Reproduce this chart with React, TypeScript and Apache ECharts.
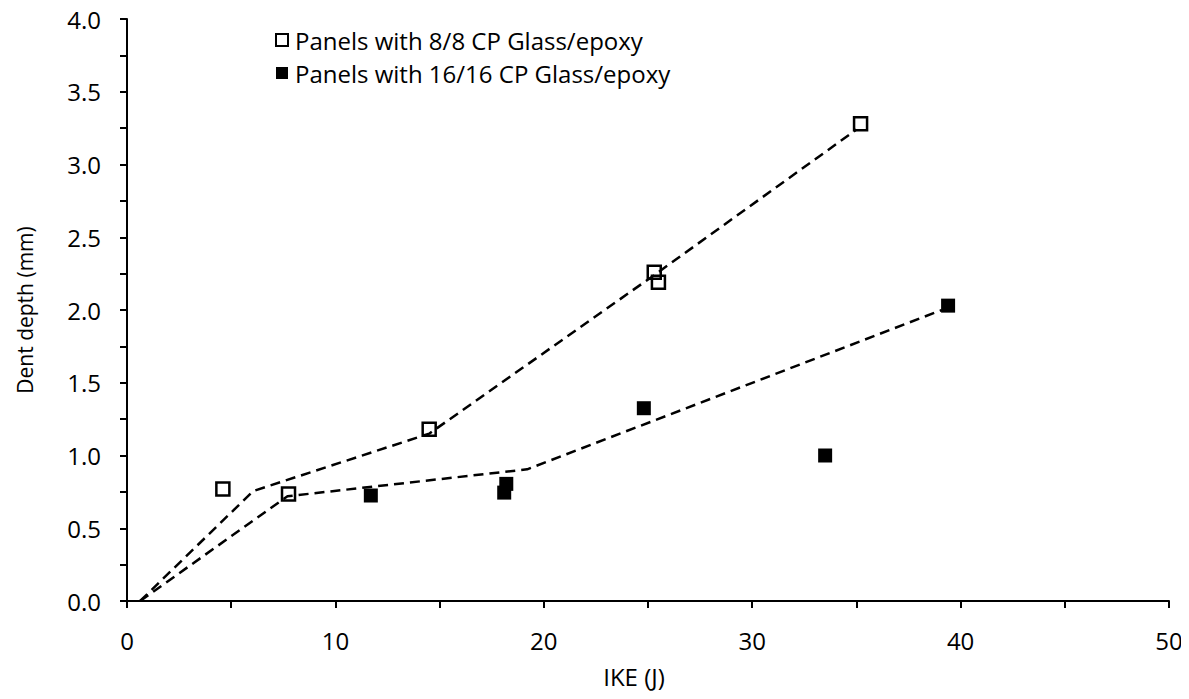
import React, { useEffect, useRef } from "react";
import * as echarts from "echarts";

const panels8Label = "Panels with 8/8 CP Glass/epoxy";
const panels16Label = "Panels with 16/16 CP Glass/epoxy";

const panels8Points: [number, number][] = [
  [4.6, 0.77],
  [7.75, 0.735],
  [14.5, 1.18],
  [25.3, 2.26],
  [25.5, 2.19],
  [35.2, 3.28],
];

const panels16Points: [number, number][] = [
  [11.7, 0.725],
  [18.1, 0.745],
  [18.2, 0.805],
  [24.8, 1.325],
  [33.5, 1.0],
  [39.4, 2.03],
];

const trend8: [number, number][] = [
  [0.63, 0],
  [6.06, 0.756],
  [14.5, 1.15],
  [25.3, 2.24],
  [35.0, 3.24],
];

const trend16: [number, number][] = [
  [0.63, 0],
  [7.7, 0.72],
  [19.2, 0.905],
  [39.1, 2.0],
];

const xTickLabels = [0, 10, 20, 30, 40, 50];
const yTickLabels = ["0.0", "0.5", "1.0", "1.5", "2.0", "2.5", "3.0", "3.5", "4.0"];

const FONT = "Open Sans";
const HFS = 24;

export default function App() {
  const ref = useRef<HTMLDivElement>(null);
  useEffect(() => {
    if (!ref.current) return;
    const chart = echarts.init(ref.current, undefined, { renderer: "svg" });
    const axisCommon = {
      axisLine: { show: true, lineStyle: { color: "#000", width: 2 } },
      axisTick: { show: true, inside: false, length: 7, lineStyle: { color: "#000", width: 2 } },
      splitLine: { show: false },
    };
    chart.setOption({
      animation: false,
      backgroundColor: "#fff",
      textStyle: { fontFamily: FONT },
      grid: { left: 127, right: 20, top: 19, bottom: 98, containLabel: false },
      legend: {
        orient: "vertical",
        left: 270,
        top: 28,
        itemGap: 9,
        itemWidth: 12,
        itemHeight: 12,
        padding: [0, 5],
        data: [panels8Label, panels16Label],
        textStyle: { fontFamily: FONT, fontSize: HFS, color: "#000", padding: [0, 0, 0, 2], lineHeight: 24 },
      },
      xAxis: {
        type: "value",
        min: 0,
        max: 50,
        interval: 5,
        ...axisCommon,
        axisLabel: {
          margin: 27,
          fontFamily: FONT,
          fontSize: HFS,
          color: "#000",
          formatter: (v: number) => {
            const idx = xTickLabels.indexOf(v);
            return idx >= 0 ? String(xTickLabels[idx]) : "";
          },
        },
        name: "IKE (J)",
        nameLocation: "middle",
        nameGap: 63,
        nameTextStyle: { fontFamily: FONT, fontSize: HFS, color: "#000", padding: [0, 28, 0, 0] },
      },
      yAxis: {
        type: "value",
        min: 0,
        max: 4,
        interval: 0.25,
        ...axisCommon,
        axisLabel: {
          margin: 26,
          fontFamily: FONT,
          fontSize: HFS,
          color: "#000",
          formatter: (v: number) => {
            const s = v.toFixed(1);
            return Math.abs(v * 2 - Math.round(v * 2)) < 1e-6 && yTickLabels.includes(s) ? s : "";
          },
        },
        name: "Dent depth (mm)",
        nameLocation: "middle",
        nameGap: 92,
        nameTextStyle: { fontFamily: FONT, fontSize: 21, color: "#000" },
      },
      series: [
        {
          name: "trend8",
          type: "line",
          data: trend8,
          symbol: "none",
          silent: true,
          lineStyle: { color: "#000", width: 2.5, type: [10, 6] },
          z: 1,
        },
        {
          name: "trend16",
          type: "line",
          data: trend16,
          symbol: "none",
          silent: true,
          lineStyle: { color: "#000", width: 2.5, type: [10, 6] },
          z: 1,
        },
        {
          name: panels8Label,
          type: "scatter",
          data: panels8Points,
          symbol: "rect",
          symbolSize: 13,
          itemStyle: { color: "rgba(255,255,255,0)", borderColor: "#000", borderWidth: 2.5, opacity: 1 },
          z: 3,
        },
        {
          name: panels16Label,
          type: "scatter",
          data: panels16Points,
          symbol: "rect",
          symbolSize: 14,
          itemStyle: { color: "#000", opacity: 1 },
          z: 3,
        },
      ],
    });
    return () => chart.dispose();
  }, []);
  return <div ref={ref} style={{ width: 1189, height: 699, margin: -8 }} />;
}
